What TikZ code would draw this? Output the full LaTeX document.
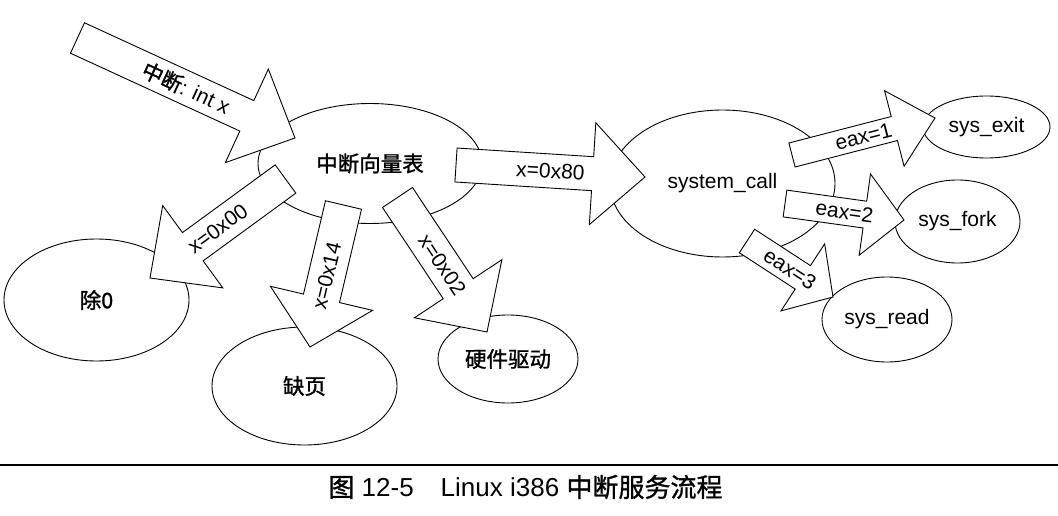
\documentclass[tikz,border=0pt]{standalone}
\usepackage{fontspec}
\setmainfont{Liberation Sans}
\newfontfamily\cjk{Noto Sans CJK SC}[FakeBold=1.2]
\usetikzlibrary{shapes.geometric,calc}

% block arrow from tail coordinate #1 to tip coordinate #2
% #3 shaft half width, #4 head half width, #5 head length, #6 label
\newcommand\blockarrow[6]{%
  \path let \p1=(#1), \p2=(#2) in \pgfextra{%
    \pgfmathsetmacro\baA{atan2(\y2-\y1,\x2-\x1)}%
    \pgfmathsetmacro\baL{veclen(\x2-\x1,\y2-\y1)}%
    \pgfmathsetmacro\baT{(\baA>90 || \baA<-90) ? \baA+180 : \baA}%
    \xdef\baAng{\baA}\xdef\baLen{\baL}\xdef\baTxt{\baT}};
  \begin{scope}[shift={(#1)}, rotate=\baAng]
    \draw[blk] (0,#3) -- ({\baLen-#5},#3) -- ({\baLen-#5},#4) -- (\baLen,0)
      -- ({\baLen-#5},-#4) -- ({\baLen-#5},-#3) -- (0,-#3) -- cycle;
    \node[lbl, rotate=\baTxt] at ({\baLen/2},0) {#6};
  \end{scope}}

\begin{document}
\begin{tikzpicture}[x=1pt,y=1pt,
  ell/.style={draw, ellipse, line width=0.9pt, inner sep=0pt, outer sep=0pt},
  blk/.style={draw, fill=white, line width=0.9pt, line join=miter},
  lbl/.style={inner sep=0pt, font=\fontsize{21}{24}\selectfont},
  cj/.style={font=\fontsize{21.5}{24}\selectfont\cjk},
  lt/.style={font=\fontsize{21}{24}\selectfont}]
\useasboundingbox (0,0) rectangle (1058,-516);
\fill[white] (0,0) rectangle (1058,-516);

% ellipses
\node[ell, cj, minimum width=224pt, minimum height=120pt] (ivt) at (370,-163.5) {中断向量表};
\node[ell, lt, minimum width=225pt, minimum height=147pt] (sc) at (722.5,-183.5) {system\_call};
\node[ell, cj, minimum width=185pt, minimum height=122pt] (div0) at (96.5,-300) {除0};
\node[ell, cj, minimum width=185pt, minimum height=118pt] (pf) at (304.5,-386) {缺页};
\node[ell, cj, minimum width=140pt, minimum height=88pt] (hw) at (508,-359) {硬件驱动};
\node[ell, lt, minimum width=127pt, minimum height=62pt] (sexit) at (986.5,-127) {sys\_exit};
\node[ell, lt, minimum width=125pt, minimum height=83pt] (sfork) at (957.5,-221.5) {sys\_fork};
\node[ell, lt, minimum width=130pt, minimum height=85pt] (sread) at (887,-319.5) {sys\_read};

% arrow end points
\coordinate (intT) at (77.5,-38);
\coordinate (intH) at ($(ivt)+(-75,25.5)$);
\coordinate (a0T) at ($(ivt)+(-84.5,-15.5)$);
\coordinate (a0H) at ($(div0)+(53.5,22)$);
\coordinate (a14T) at ($(ivt)+(-26.5,-41.5)$);
\coordinate (a14H) at ($(pf)+(5.5,39)$);
\coordinate (a2T) at ($(ivt)+(27.5,-34)$);
\coordinate (a2H) at ($(hw)+(-21,27)$);
\coordinate (a80T) at ($(ivt)+(86,-1.5)$);
\coordinate (a80H) at ($(sc)+(-77.5,6.5)$);
\coordinate (e1T) at ($(sc)+(69.5,28.5)$);
\coordinate (e1H) at ($(sexit)+(-51.5,9)$);
\coordinate (e2T) at ($(sc)+(62.5,-20)$);
\coordinate (e2H) at ($(sfork)+(-53.5,1.5)$);
\coordinate (e3T) at ($(sc)+(24.5,-57.5)$);
\coordinate (e3H) at ($(sread)+(-54,22.5)$);

% block arrows
\blockarrow{intT}{intH}{16.75}{51.5}{53}{{\cjk 中断}: int x}
\blockarrow{a0T}{a0H}{17.5}{51}{53}{x=0x00}
\blockarrow{a14T}{a14H}{18.5}{52.5}{50}{x=0x14}
\blockarrow{a2T}{a2H}{18}{52.5}{52}{x=0x02}
\blockarrow{a80T}{a80H}{17}{51}{52.5}{x=0x80}
\blockarrow{e1T}{e1H}{12.4}{39}{42}{eax=1}
\blockarrow{e2T}{e2H}{13.5}{41}{39.5}{eax=2}
\blockarrow{e3T}{e3H}{14}{40}{36}{eax=3}

% rule and caption
\coordinate (ruleL) at (0,-465);
\coordinate (ruleR) at (1058,-465);
\draw[line width=1.6pt] (ruleL) -- (ruleR);
\node[font=\fontsize{26}{29}\selectfont, inner sep=0pt] (cap) at (525.5,-487)
  {{\cjk 图}~12-5\hspace{27pt}Linux~i386~{\cjk 中断服务流程}};
\end{tikzpicture}
\end{document}
